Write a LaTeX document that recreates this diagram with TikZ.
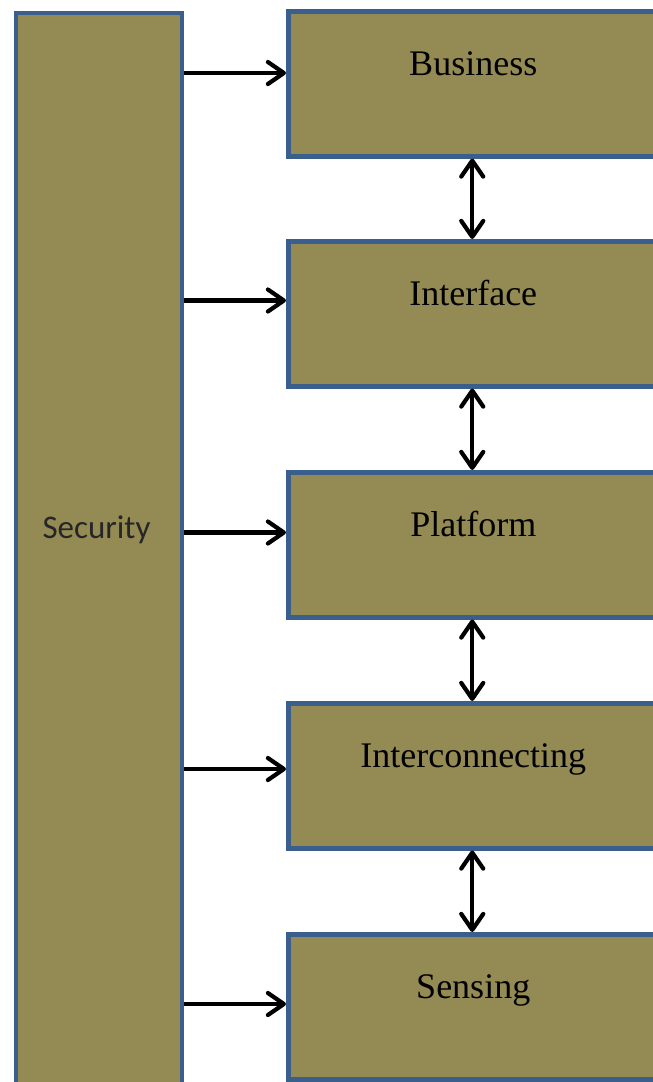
\documentclass[tikz,border=0pt]{standalone}
\usepackage{fontspec}
\setmainfont{Liberation Serif}
\newfontfamily\calibrifont{Carlito}
\usetikzlibrary{arrows.meta}

\definecolor{layerfill}{HTML}{948A54}
\definecolor{layerline}{HTML}{3A5F8D}

\tikzset{
  layer/.style={draw=layerline, line width=4.5pt, fill=layerfill,
    rectangle, inner sep=0pt, minimum width=370pt, minimum height=145pt},
  layertext/.style={anchor=base, inner sep=0pt, font=\fontsize{36}{40}\selectfont},
  barb/.tip={Straight Barb[length=16pt, width=22pt, line cap=round, line join=round]},
  feed/.style={line width=4.2pt, -barb},
  link/.style={line width=4.2pt, barb-barb}
}

\begin{document}
\begin{tikzpicture}[x=1pt, y=-1pt]
  \useasboundingbox (0,0) rectangle (653,1082);

  % security column
  \node[draw=layerline, line width=4.5pt, fill=layerfill, rectangle, inner sep=0pt,
        minimum width=166pt, minimum height=1071pt, anchor=north west]
        (sec) at (13.5,10.5) {};
  \node[anchor=base, inner sep=0pt, font=\calibrifont\fontsize{33}{36}\selectfont,
        text=black!85] (secl) at (96.5,538) {Security};

  % layer stack
  \node[layer, anchor=north west] (bus)  at (286,9)   {};
  \node[layer, anchor=north west] (intf) at (286,239) {};
  \node[layer, anchor=north west] (plat) at (286,470) {};
  \node[layer, anchor=north west] (icon) at (286,701) {};
  \node[layer, anchor=north west] (sens) at (286,932) {};

  \node[layertext] (busl)  at ([yshift=-66pt]bus.north)  {Business};
  \node[layertext] (intfl) at ([yshift=-66pt]intf.north) {Interface};
  \node[layertext] (platl) at ([yshift=-66pt]plat.north) {Platform};
  \node[layertext] (iconl) at ([yshift=-66pt]icon.north) {Interconnecting};
  \node[layertext] (sensl) at ([yshift=-66pt]sens.north) {Sensing};

  % security feeds every layer
  \draw[feed] (sec.east |- 0,73)    -- (bus.west  |- 0,73);
  \draw[feed] (sec.east |- 0,300.5) -- (intf.west |- 0,300.5);
  \draw[feed] (sec.east |- 0,532.5) -- (plat.west |- 0,532.5);
  \draw[feed] (sec.east |- 0,769)   -- (icon.west |- 0,769);
  \draw[feed] (sec.east |- 0,1004)  -- (sens.west |- 0,1004);

  % links between neighbouring layers
  \draw[link] ([xshift=-1pt]bus.south)  -- ([xshift=-1pt]intf.north);
  \draw[link] ([xshift=-1pt]intf.south) -- ([xshift=-1pt]plat.north);
  \draw[link] ([xshift=-1pt]plat.south) -- ([xshift=-1pt]icon.north);
  \draw[link] ([xshift=-1pt]icon.south) -- ([xshift=-1pt]sens.north);
\end{tikzpicture}
\end{document}
